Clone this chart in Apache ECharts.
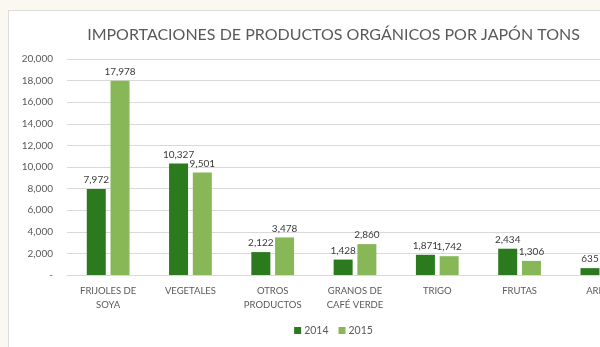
<!DOCTYPE html>
<html>
<head>
<meta charset="utf-8">
<script src="https://cdn.jsdelivr.net/npm/echarts@6/dist/echarts.min.js"></script>
<style>
  html, body { margin: 0; padding: 0; width: 600px; height: 347px; overflow: hidden; background: #faf8f1; }
  #panel { position: absolute; left: 8px; top: 10px; width: 700px; height: 400px; background: #ffffff; border-left: 1px solid #dcdcdc; border-top: 1px solid #dcdcdc; }
  #chart { position: absolute; left: 0; top: 0; width: 667px; height: 347px; }
</style>
</head>
<body>
<div id="panel"></div>
<div id="chart"></div>
<script>
const categories = ['FRIJOLES DE\nSOYA', 'VEGETALES', 'OTROS\nPRODUCTOS', 'GRANOS DE\nCAFÉ VERDE', 'TRIGO', 'FRUTAS', 'ARROZ'];
const values2014 = [7972, 10327, 2122, 1428, 1871, 2434, 635];
const values2015 = [17978, 9501, 3478, 2860, 1742, 1306, null];
const yTicks = { min: 0, max: 20000, step: 2000 };

const FONT = 'Lato, "Open Sans", sans-serif';
const fmt = v => v.toLocaleString('en-US');

const chart = echarts.init(document.getElementById('chart'), null, { renderer: 'canvas' });

const labelStyle = {
  show: true,
  position: 'top',
  distance: 4,
  color: '#3a3a3a',
  fontSize: 10,
  fontFamily: FONT,
  formatter: p => fmt(p.value)
};

chart.setOption({
  animation: false,
  title: {
    text: 'IMPORTACIONES DE PRODUCTOS ORGÁNICOS POR JAPÓN TONS',
    left: 'center',
    top: 22,
    textStyle: { color: '#595959', fontSize: 16, fontWeight: 'normal', fontFamily: FONT }
  },
  legend: {
    bottom: 6,
    left: 'center',
    itemWidth: 7,
    itemHeight: 7,
    itemGap: 10,
    icon: 'rect',
    textStyle: { color: '#595959', fontSize: 10.5, fontFamily: FONT, padding: [0, 0, 0, -2] },
    data: ['2014', '2015']
  },
  grid: { left: 67, right: 24, top: 59, bottom: 72, containLabel: false },
  xAxis: {
    type: 'category',
    data: categories,
    axisLine: { lineStyle: { color: '#d9d9d9' } },
    axisTick: { show: false },
    axisLabel: { color: '#595959', fontSize: 9.5, fontFamily: FONT, lineHeight: 14, margin: 9, interval: 0 }
  },
  yAxis: {
    type: 'value',
    min: yTicks.min,
    max: yTicks.max,
    interval: yTicks.step,
    axisLine: { show: false },
    axisTick: { show: false },
    splitLine: { lineStyle: { color: '#d9d9d9' } },
    axisLabel: {
      color: '#595959', fontSize: 10, fontFamily: FONT, margin: 14,
      formatter: v => (v === 0 ? '-' : fmt(v))
    }
  },
  series: [
    { name: '2014', type: 'bar', data: values2014, barWidth: 19, barGap: '25%',
      itemStyle: { color: '#2b7b1e' }, label: labelStyle },
    { name: '2015', type: 'bar', data: values2015, barWidth: 19,
      itemStyle: { color: '#88b757' }, label: labelStyle }
  ]
});
</script>
</body>
</html>
